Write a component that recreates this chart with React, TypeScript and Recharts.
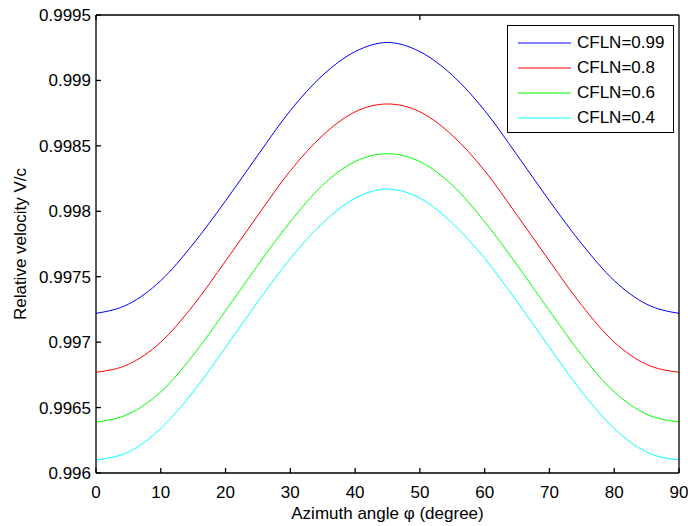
import { Label, Legend, Line, LineChart, XAxis, YAxis } from 'recharts'

// azimuth angles (degree) and relative velocity
const angles = [0, 5, 10, 15, 20, 25, 30, 35, 40, 45, 50, 55, 60, 65, 70, 75, 80, 85, 90]
const cfl099 = [
  0.99722, 0.99729, 0.99747, 0.99775, 0.99808, 0.99843, 0.99877, 0.99904, 0.99922, 0.99929,
  0.99922, 0.99904, 0.99877, 0.99843, 0.99808, 0.99775, 0.99747, 0.99729, 0.99722,
]
const cfl08 = [
  0.99677, 0.99683, 0.99700, 0.99728, 0.99762, 0.99797, 0.99831, 0.99858, 0.99876, 0.99882,
  0.99876, 0.99858, 0.99831, 0.99797, 0.99762, 0.99728, 0.99700, 0.99683, 0.99677,
]
const cfl06 = [
  0.99639, 0.99645, 0.99662, 0.99690, 0.99724, 0.99759, 0.99792, 0.99820, 0.99838, 0.99844,
  0.99838, 0.99820, 0.99792, 0.99759, 0.99724, 0.99690, 0.99662, 0.99645, 0.99639,
]
const cfl04 = [
  0.9961, 0.99616, 0.99634, 0.99662, 0.99696, 0.99731, 0.99764, 0.99791, 0.9981, 0.99817,
  0.9981, 0.99791, 0.99764, 0.99731, 0.99696, 0.99662, 0.99634, 0.99616, 0.9961,
]

const xTicks = [0, 10, 20, 30, 40, 50, 60, 70, 80, 90]
const yTicks = [0.996, 0.9965, 0.997, 0.9975, 0.998, 0.9985, 0.999, 0.9995]

const series = [
  { key: 'c099', name: 'CFLN=0.99', color: '#0000ff' },
  { key: 'c08', name: 'CFLN=0.8', color: '#ff0000' },
  { key: 'c06', name: 'CFLN=0.6', color: '#00ff00' },
  { key: 'c04', name: 'CFLN=0.4', color: '#00ffff' },
]

const chartData = angles.map((a, i) => ({
  angle: a,
  c099: cfl099[i],
  c08: cfl08[i],
  c06: cfl06[i],
  c04: cfl04[i],
}))

const FONT = '"Liberation Sans", Arial, sans-serif'
const FS = 17
const tickStyle = { fill: '#000', fontSize: FS, fontFamily: FONT }
const noLabel = () => ''

const renderLegend = (props: any) => {
  // keep the plotting order, recharts sorts the payload by name
  const items = series
    .map((s) => (props.payload || []).find((p: any) => p.value === s.name))
    .filter(Boolean)
  return (
    <div
      style={{
        width: 165,
        height: 102,
        border: '1px solid #000',
        background: '#fff',
        paddingTop: 4,
        boxSizing: 'content-box',
        fontFamily: FONT,
        fontSize: FS,
        color: '#000',
      }}
    >
      {items.map((entry: any) => (
        <div key={entry.value} style={{ display: 'flex', alignItems: 'center', height: 25 }}>
          <svg width={69} height={4}>
            <line x1={10} x2={63} y1={2} y2={2} stroke={entry.color} strokeWidth={1} />
          </svg>
          <span>{entry.value}</span>
        </div>
      ))}
    </div>
  )
}

export default function App() {
  return (
    <div style={{ position: 'absolute', left: 0, top: 0, background: '#fff' }}>
      <LineChart
        width={688}
        height={526}
        data={chartData}
        margin={{ top: 14, right: 8, bottom: 0, left: 0 }}
      >
        <XAxis
          xAxisId='bottom'
          dataKey='angle'
          type='number'
          domain={[0, 90]}
          ticks={xTicks}
          height={53}
          stroke='#000'
          strokeWidth={1.3}
          tickSize={-5}
          tickMargin={18}
          tick={tickStyle}
        >
          <Label
            value='Azimuth angle φ (degree)'
            position='insideBottom'
            offset={7}
            style={{ fill: '#000', fontSize: FS, fontFamily: FONT }}
          />
        </XAxis>
        <XAxis
          xAxisId='top'
          orientation='top'
          type='number'
          domain={[0, 90]}
          ticks={xTicks}
          height={1}
          stroke='#000'
          strokeWidth={1.3}
          tickSize={-5}
          tickFormatter={noLabel}
        />
        <YAxis
          yAxisId='left'
          type='number'
          domain={[0.996, 0.9995]}
          ticks={yTicks}
          width={96}
          stroke='#000'
          strokeWidth={1.3}
          tickSize={-5}
          tickMargin={10}
          tick={tickStyle}
          tickFormatter={(v: number) => String(Number(v.toFixed(4)))}
        >
          <Label
            value='Relative velocity V/c'
            position='center'
            angle={-90}
            dx={-28}
            style={{ fill: '#000', fontSize: FS, fontFamily: FONT, textAnchor: 'middle' }}
          />
        </YAxis>
        <YAxis
          yAxisId='right'
          orientation='right'
          type='number'
          domain={[0.996, 0.9995]}
          ticks={yTicks}
          width={1}
          stroke='#000'
          strokeWidth={1.3}
          tickSize={-5}
          tickFormatter={noLabel}
        />
        <Legend
          layout='vertical'
          align='center'
          verticalAlign='middle'
          content={renderLegend}
          wrapperStyle={{ left: 507, top: 25, width: 167, height: 107 }}
        />
        {series.map((s) => (
          <Line
            key={s.key}
            xAxisId='bottom'
            yAxisId='left'
            type='monotone'
            dataKey={s.key}
            name={s.name}
            stroke={s.color}
            strokeWidth={1}
            dot={false}
            isAnimationActive={false}
          />
        ))}
      </LineChart>
    </div>
  )
}
